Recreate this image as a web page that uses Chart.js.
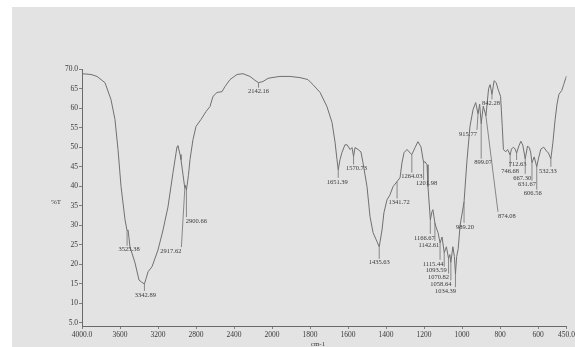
<!DOCTYPE html>
<html>
<head>
<meta charset="utf-8">
<script src="https://cdn.jsdelivr.net/npm/chart.js@4.4.1/dist/chart.umd.min.js"></script>
<style>
  html, body { margin: 0; padding: 0; background: #fff; overflow: hidden; }
  #wrap { width: 575px; height: 347px; position: relative; }
</style>
</head>
<body>
<div id="wrap"><canvas id="c" width="575" height="347"></canvas></div>
<script>
// FTIR spectrum: wavenumber (cm-1) against transmittance (%T)
const wavenumber = [
  4000, 3905, 3842, 3758, 3695, 3653, 3621, 3589, 3547, 3525.38, 3515, 3495, 3442, 3400, 3370,
  3342.89, 3325, 3305, 3263, 3200, 3147, 3095, 3042, 3000, 2990, 2968, 2958, 2937, 2917.62, 2910,
  2900.66, 2880, 2863, 2832, 2800, 2747, 2695, 2653, 2621, 2579, 2526, 2495, 2442, 2368, 2305,
  2232, 2179, 2142.16, 2095, 2042, 2000, 1958, 1905, 1853, 1811, 1795, 1784, 1747, 1711, 1684,
  1668, 1658, 1651.39, 1642, 1632, 1616, 1605, 1589, 1579, 1570.73, 1563, 1547, 1532, 1521, 1500,
  1484, 1468, 1447, 1435.63, 1421, 1411, 1395, 1379, 1363, 1341.72, 1326, 1316, 1305, 1289, 1279,
  1264.03, 1247, 1232, 1216, 1201.98, 1195, 1184, 1179, 1166.67, 1158, 1153, 1142.61, 1137, 1126,
  1115.44, 1105, 1093.59, 1082, 1070.82, 1064, 1058.64, 1048, 1040, 1034.39, 1028, 1020, 1010,
  989.20, 974, 958, 942, 928, 915.77, 907, 899.07, 888, 874.08, 860, 852, 842.28, 831, 820, 810,
  797, 788, 782, 770, 760, 746.68, 740, 730, 720, 712.63, 700, 690, 680, 667.30, 655, 645, 638,
  631.67, 620, 606.56, 598, 585, 570, 555, 545, 532.33, 522, 510, 500, 490, 475, 465, 455, 450
];
const transmittance = [
  68.8, 68.6, 68.1, 66.5, 62.2, 57.1, 49.4, 39.9, 31.4, 28.6, 28.8, 24.5, 20.4, 16.0, 15.4,
  15.0, 16.4, 18.1, 19.4, 23.7, 28.8, 34.7, 43.5, 50.1, 50.4, 48.1, 46.8, 43.0, 39.5, 40.2,
  39.0, 42.7, 46.8, 51.9, 55.3, 57.1, 59.1, 60.4, 63.0, 64.0, 64.2, 65.5, 67.3, 68.6, 68.8,
  68.1, 67.1, 66.5, 66.8, 67.6, 67.8, 68.1, 68.1, 67.8, 67.3, 66.5, 66.0, 64.0, 60.4, 56.3,
  51.2, 46.8, 44.2, 46.8, 48.6, 50.6, 50.6, 49.4, 49.9, 47.6, 49.9, 49.4, 48.8, 46.0, 39.9,
  32.2, 28.1, 25.8, 24.5, 28.8, 33.2, 36.5, 37.8, 39.9, 41.2, 42.2, 46.0, 48.6, 49.4, 48.8,
  48.1, 49.9, 51.4, 50.1, 46.0, 46.3, 45.5, 39.9, 31.4, 33.5, 34.0, 30.6, 29.6, 28.1,
  25.5, 27.0, 23.0, 24.5, 21.5, 22.5, 20.5, 24.5, 22.0, 17.5, 22.0, 24.0, 30.0,
  36.0, 46.5, 55.3, 59.6, 61.4, 58.5, 61.0, 56.0, 60.5, 58.0, 65.0, 66.0, 63.5, 67.0, 66.5, 64.8,
  63.0, 55.3, 49.4, 48.8, 49.4, 48.0, 49.5, 50.0, 49.5, 48.5, 50.4, 51.5, 50.5, 47.0, 50.3, 49.8, 48.5,
  46.0, 47.5, 45.0, 47.0, 49.5, 50.0, 49.0, 48.5, 47.0, 51.0, 57.0, 61.0, 63.5, 64.5, 66.0, 67.5, 68.2
];

// Labelled band positions (cm-1)
const peakWavenumbers = [
  3525.38, 3342.89, 2917.62, 2900.66, 2142.16, 1651.39, 1570.73, 1435.63, 1341.72, 1264.03,
  1201.98, 1166.67, 1142.61, 1115.44, 1093.59, 1070.82, 1058.64, 1034.39, 989.20, 915.77,
  899.07, 874.08, 842.28, 746.68, 712.63, 667.30, 631.67, 606.56, 532.33
];
// Where each band label sits relative to its band (px)
const peakLabelOffsets = [
  [2, 19], [1, 11], [-14, 63], [10, 31], [0, 9], [-1, 12], [3, 12], [0, 16], [2, 21], [0, 22],
  [3, 21], [-6, 18], [-6, 22], [-7, 21], [-8, 18], [-10, 19], [-10, 22], [-10, 17], [1, 25], [-10, 20],
  [2, 39], [21, 100], [-1, 9], [0, 16], [1, 11], [-3, 19], [-5, 22], [-4, 27], [-3, 12]
];

const xTickWavenumbers = [4000, 3600, 3200, 2800, 2400, 2000, 1800, 1600, 1400, 1200, 1000, 800, 600, 450];
const xTickLabels = ['4000.0', '3600', '3200', '2800', '2400', '2000', '1800', '1600', '1400', '1200', '1000', '800', '600', '450.0'];
const yTickValues = [70, 65, 60, 55, 50, 45, 40, 35, 30, 25, 20, 15, 10, 5];
const yTickLabels = ['70.0', '65', '60', '55', '50', '45', '40', '35', '30', '25', '20', '15', '10', '5.0'];

// The wavenumber axis is compressed 2:1 above 2000 cm-1 (400 per division above, 200 below)
function toAxis(wn) {
  return wn >= 2000 ? (4000 - wn) / 400 : 5 + (2000 - wn) / 200;
}

const points = wavenumber.map((w, i) => ({ x: toAxis(w), y: transmittance[i] }));

const SERIF = '"Liberation Serif", "DejaVu Serif", serif';
const LINE = '#707070';
const INK = '#3a3a3a';

const pagePlugin = {
  id: 'page',
  beforeDraw(chart) {
    const ctx = chart.ctx;
    ctx.save();
    ctx.fillStyle = '#ffffff';
    ctx.fillRect(0, 0, chart.width, chart.height);
    ctx.fillStyle = '#e3e3e3';
    ctx.fillRect(12, 7, chart.width - 12, chart.height - 7);
    ctx.restore();
  },
  afterDraw(chart) {
    const ctx = chart.ctx;
    ctx.save();
    ctx.fillStyle = INK;
    ctx.font = '7px ' + SERIF;
    ctx.textAlign = 'center';
    ctx.textBaseline = 'middle';
    ctx.fillText('%T', 56, 202);
    ctx.fillText('cm-1', 318, 344);
    ctx.restore();
  }
};

const bandLabelPlugin = {
  id: 'bandLabels',
  afterDatasetsDraw(chart) {
    const ctx = chart.ctx;
    const xs = chart.scales.x, ys = chart.scales.y;
    ctx.save();
    ctx.font = '6.5px ' + SERIF;
    ctx.textAlign = 'center';
    ctx.textBaseline = 'middle';
    ctx.lineWidth = 0.8;
    peakWavenumbers.forEach((wn, i) => {
      const idx = wavenumber.indexOf(wn);
      const vx = xs.getPixelForValue(toAxis(wn));
      const vy = ys.getPixelForValue(transmittance[idx]);
      const tx = vx + peakLabelOffsets[i][0];
      const ty = vy + peakLabelOffsets[i][1];
      const text = wn.toFixed(2);
      const w = ctx.measureText(text).width;
      const ax = Math.min(Math.max(vx, tx - w / 2), tx + w / 2);
      const ay = ty - 4;
      if (ay > vy + 1) {
        ctx.strokeStyle = LINE;
        ctx.beginPath();
        ctx.moveTo(vx, vy);
        ctx.lineTo(ax, ay);
        ctx.stroke();
      }
      ctx.fillStyle = INK;
      ctx.fillText(text, tx, ty);
    });
    ctx.restore();
  }
};

new Chart(document.getElementById('c'), {
  type: 'line',
  data: {
    datasets: [{
      data: points,
      borderColor: LINE,
      borderWidth: 1,
      pointRadius: 0,
      tension: 0,
      fill: false
    }]
  },
  options: {
    responsive: false,
    animation: false,
    devicePixelRatio: 1,
    layout: { padding: { top: 69, right: 8.5, left: 0, bottom: 0 } },
    plugins: { legend: { display: false }, tooltip: { enabled: false } },
    scales: {
      x: {
        type: 'linear',
        min: 0,
        max: toAxis(450),
        afterBuildTicks(scale) {
          scale.ticks = xTickWavenumbers.map(w => ({ value: toAxis(w) }));
        },
        afterFit(scale) {
          scale.height = 21;
          scale.paddingLeft = 0;
          scale.paddingRight = 0;
        },
        ticks: {
          autoSkip: false,
          maxRotation: 0,
          padding: 2,
          color: INK,
          font: { family: SERIF, size: 7.5 },
          callback: (v, i) => xTickLabels[i]
        },
        grid: { drawOnChartArea: false, drawTicks: true, tickLength: 3, color: '#808080' },
        border: { display: true, color: '#6a6a6a', width: 1 }
      },
      y: {
        type: 'linear',
        min: 4.23,
        max: 70,
        afterBuildTicks(scale) {
          scale.ticks = yTickValues.map(v => ({ value: v }));
        },
        afterFit(scale) {
          scale.width = 82;
          scale.paddingTop = 0;
          scale.paddingBottom = 0;
        },
        ticks: {
          autoSkip: false,
          padding: 1,
          color: INK,
          font: { family: SERIF, size: 7.5 },
          callback: (v, i) => yTickLabels[i]
        },
        grid: { drawOnChartArea: false, drawTicks: true, tickLength: 3, color: '#808080' },
        border: { display: true, color: '#6a6a6a', width: 1 }
      }
    }
  },
  plugins: [pagePlugin, bandLabelPlugin]
});
</script>
</body>
</html>
